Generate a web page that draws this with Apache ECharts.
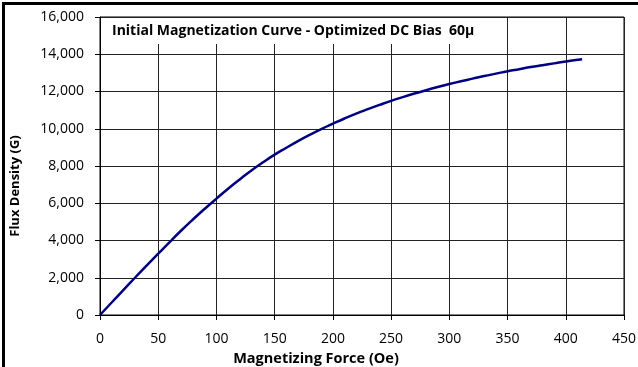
<!DOCTYPE html>
<html>
<head>
<meta charset="utf-8">
<script src="https://cdn.jsdelivr.net/npm/echarts@6/dist/echarts.min.js"></script>
<style>
html,body{margin:0;padding:0;background:#fff;}
#chart{width:638px;height:367px;}
</style>
</head>
<body>
<div id="chart"></div>
<script>
var titleText = 'Initial Magnetization Curve - Optimized DC Bias  60\u00b5';
var xName = 'Magnetizing Force (Oe)';
var yName = 'Flux Density (G)';
var forceOe = [0,10,20,30,40,50,60,70,80,90,100,110,120,130,140,150,160,170,180,190,200,210,220,230,240,250,260,270,280,290,300,310,320,330,340,350,360,370,380,390,400,414];
var fluxG = [0,670,1340,2000,2650,3290,3930,4550,5140,5705,6250,6780,7280,7760,8200,8610,8980,9340,9670,9980,10270,10550,10810,11050,11280,11500,11700,11890,12070,12240,12400,12550,12690,12830,12960,13090,13200,13310,13410,13510,13610,13730];

var points = forceOe.map(function(h, i){ return [h, fluxG[i]]; });
var font = 'Open Sans';
var chart = echarts.init(document.getElementById('chart'), null, {renderer:'canvas'});
chart.setOption({
  animation:false,
  backgroundColor:'#fff',
  title:{
    text:titleText,
    left:104, top:18,
    backgroundColor:'#fff',
    padding:[6,8,6,8],
    textStyle:{fontFamily:font,fontSize:14,fontWeight:'bold',color:'#000'}
  },
  grid:{left:100,right:14,top:17,bottom:52,outerBoundsMode:'none',containLabel:false,
    show:true,borderColor:'#000',borderWidth:1,backgroundColor:'#fff'},
  xAxis:{
    type:'value',min:0,max:450,interval:50,
    name:xName,nameLocation:'middle',nameGap:33,
    nameTextStyle:{fontFamily:font,fontSize:14.5,fontWeight:'bold',color:'#000',padding:[0,92,0,0]},
    axisLine:{show:true,lineStyle:{color:'#000',width:1}},
    axisTick:{show:true,length:5,lineStyle:{color:'#000'}},
    axisLabel:{fontFamily:font,fontSize:14,color:'#000',margin:17},
    splitLine:{show:true,lineStyle:{color:'#222',width:1}}
  },
  yAxis:{
    type:'value',min:0,max:16000,interval:2000,
    name:yName,nameLocation:'middle',nameGap:78,
    nameTextStyle:{fontFamily:font,fontSize:13,fontWeight:'bold',color:'#000',padding:[0,40,0,0]},
    axisLine:{show:true,lineStyle:{color:'#000',width:1}},
    axisTick:{show:true,length:5,lineStyle:{color:'#000'}},
    axisLabel:{fontFamily:font,fontSize:14,color:'#000',margin:16,
      formatter:function(v){return v.toLocaleString('en-US');}},
    splitLine:{show:true,lineStyle:{color:'#222',width:1}}
  },
  series:[{
    type:'line',data:points,smooth:true,symbol:'none',
    lineStyle:{color:'#000080',width:2.5},z:1
  }],
  graphic:[
    {type:'rect',shape:{x:2,y:2,width:636,height:3},style:{fill:'#000'},z:100},
    {type:'rect',shape:{x:2,y:2,width:3,height:365},style:{fill:'#000'},z:100}
  ]
});
</script>
</body>
</html>
